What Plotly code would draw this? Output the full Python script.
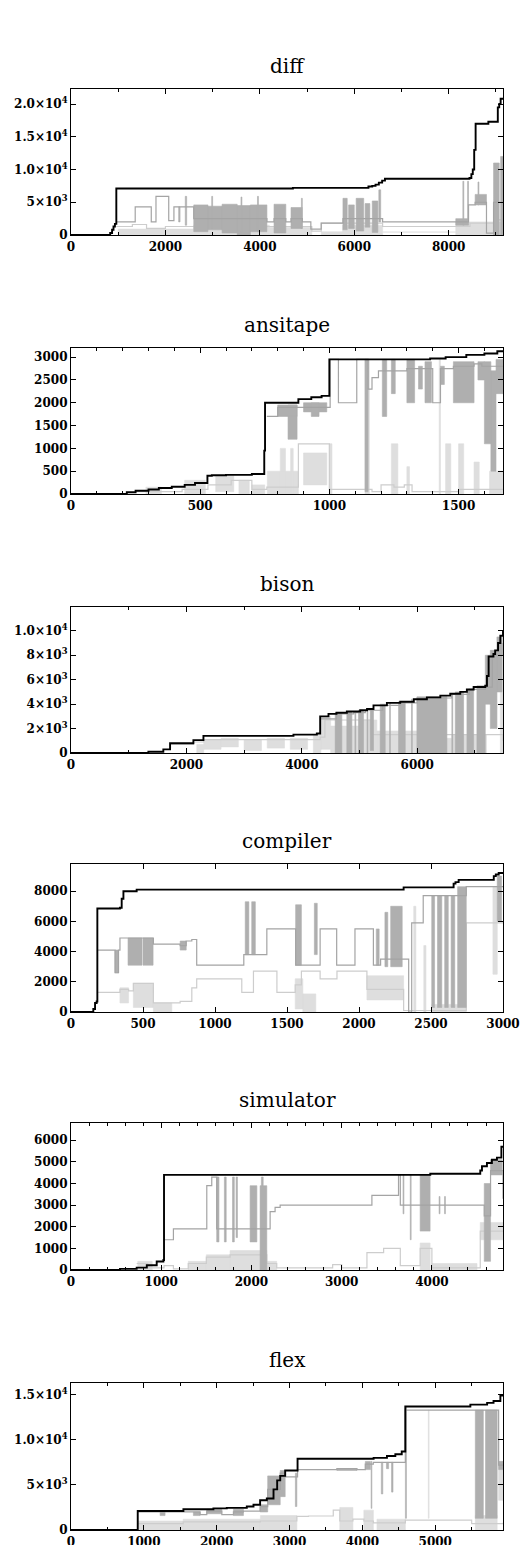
import plotly.graph_objects as go

# ------------------------------------------------------------------ data
TITLES = ["diff", "ansitape", "bison", "compiler", "simulator", "flex"]
X_MAX = [9150, 1672, 7486, 3000, 4788, 5930]
Y_MAX = [22300, 3200, 11950, 9800, 6800, 16300]

DIFF_XTICKS = [0, 2000, 4000, 6000, 8000]
ANSI_XTICKS = [0, 500, 1000, 1500]
BISON_XTICKS = [0, 2000, 4000, 6000]
COMP_XTICKS = [0, 500, 1000, 1500, 2000, 2500, 3000]
SIM_XTICKS = [0, 1000, 2000, 3000, 4000]
FLEX_XTICKS = [0, 1000, 2000, 3000, 4000, 5000]
X_MINOR = [1000, 100, 1000, None, 200, 500]

DIFF_YTICKS = [0, 5000, 10000, 15000, 20000]
DIFF_YTEXT = ["0", "5×10<sup>3</sup>", "1.0×10<sup>4</sup>", "1.5×10<sup>4</sup>", "2.0×10<sup>4</sup>"]
ANSI_YTICKS = [0, 500, 1000, 1500, 2000, 2500, 3000]
ANSI_YTEXT = ["0", "500", "1000", "1500", "2000", "2500", "3000"]
BISON_YTICKS = [0, 2000, 4000, 6000, 8000, 10000]
BISON_YTEXT = ["0", "2×10<sup>3</sup>", "4×10<sup>3</sup>", "6×10<sup>3</sup>", "8×10<sup>3</sup>", "1.0×10<sup>4</sup>"]
COMP_YTICKS = [0, 2000, 4000, 6000, 8000]
COMP_YTEXT = ["0", "2000", "4000", "6000", "8000"]
SIM_YTICKS = [0, 1000, 2000, 3000, 4000, 5000, 6000]
SIM_YTEXT = ["0", "1000", "2000", "3000", "4000", "5000", "6000"]
FLEX_YTICKS = [0, 5000, 10000, 15000]
FLEX_YTEXT = ["0", "5×10<sup>3</sup>", "1.0×10<sup>4</sup>", "1.5×10<sup>4</sup>"]

# ---- diff
DIFF_MAX_X = [0, 830, 870, 900, 930, 960, 4700, 6300, 6380, 6450, 6520, 6590, 6650, 8440, 8480, 8510, 8540, 8570, 8840, 9040, 9070, 9100, 9150]
DIFF_MAX_Y = [0, 300, 800, 1300, 1700, 7100, 7200, 7400, 7500, 7700, 8000, 8300, 8600, 8700, 9300, 10000, 13000, 17000, 17300, 19500, 20000, 20800, 20800]
DIFF_DARK_X = [960, 1360, 1700, 1800, 2070, 2180, 2600, 4150, 4300, 4550, 4660, 4900, 5080, 5300, 5760, 6600, 8150, 8420, 8560, 8800, 8950, 9150]
DIFF_DARK_Y = [2000, 4300, 2000, 5900, 2200, 4300, 2500, 2000, 2500, 2000, 2500, 2000, 900, 1800, 2500, 2000, 2000, 4600, 5000, 300, 5000, 5000]
DIFF_DARK_BANDS = [(2280, 2310, 2000, 4300), (2420, 2450, 1500, 5900), (2600, 2900, 500, 4600), (2900, 3200, 800, 4400),
                   (3200, 3520, 300, 4700), (3520, 3800, 0, 4500), (3800, 4150, 500, 4600), (2980, 3000, 1000, 5900),
                   (3600, 3620, 500, 5800), (3950, 3970, 500, 5900), (4300, 4550, 300, 4700), (4660, 4900, 1000, 4200),
                   (4880, 4900, 1000, 5600), (5760, 5850, 800, 5600), (5880, 6000, 1000, 4600), (6040, 6200, 600, 5600),
                   (6230, 6330, 1200, 4800), (6380, 6500, 400, 5200), (6520, 6560, 2000, 6900), (8150, 8420, 1500, 2500),
                   (8300, 8320, 1500, 8200), (8400, 8420, 2500, 8200), (8560, 8800, 4600, 6200), (8620, 8640, 4600, 8100),
                   (8950, 9070, 0, 11000), (9100, 9150, 0, 12000)]
DIFF_LIGHT_X = [960, 1300, 1600, 2000, 5100, 5300, 6600, 8150, 8450, 9000, 9150]
DIFF_LIGHT_Y = [1300, 1600, 1000, 1300, 600, 1800, 1300, 1300, 1800, 2300, 2300]
DIFF_LIGHT_BANDS = [(1000, 2600, 0, 900), (2600, 4200, 0, 1500), (4200, 5100, 0, 1200), (5300, 5750, 0, 500),
                    (5750, 6600, 0, 1500), (6600, 8150, 450, 560), (8150, 9150, 0, 2000)]

# ---- ansitape
ANSI_MAX_X = [0, 216, 250, 300, 340, 390, 440, 480, 528, 545, 600, 700, 748, 751, 880, 930, 970, 1000, 1390, 1450, 1530, 1600, 1650, 1672]
ANSI_MAX_Y = [0, 40, 70, 100, 130, 160, 200, 240, 400, 410, 420, 440, 950, 2000, 2080, 2120, 2150, 2950, 2970, 3000, 3050, 3080, 3130, 3150]
ANSI_DARK_X = [758, 800, 880, 1003, 1035, 1106, 1140, 1150, 1165, 1190, 1300, 1330, 1400, 1430, 1480, 1560, 1590, 1672]
ANSI_DARK_Y = [1700, 1900, 1900, 2950, 2000, 2950, 2950, 2300, 2550, 2700, 2750, 2750, 2000, 2750, 2800, 2850, 2800, 2800]
ANSI_DARK_BANDS = [(800, 875, 1700, 1950), (840, 875, 1200, 1950), (900, 990, 1800, 2000), (930, 960, 1700, 2000),
                   (1138, 1150, 50, 2950), (1205, 1222, 1700, 2950), (1240, 1255, 2200, 2950), (1300, 1330, 2000, 2950),
                   (1345, 1360, 2300, 2800), (1370, 1395, 2000, 2900), (1430, 1445, 2400, 2800), (1480, 1560, 2000, 2900),
                   (1575, 1600, 2500, 2900), (1600, 1625, 1100, 2900), (1625, 1645, 500, 2700), (1645, 1672, 2200, 2950)]
ANSI_LIGHT_X = [250, 430, 530, 620, 700, 758, 880, 1000, 1150, 1165, 1200, 1250, 1290, 1320, 1500, 1672]
ANSI_LIGHT_Y = [50, 100, 200, 300, 100, 150, 1100, 100, 100, 50, 200, 150, 200, 50, 100, 100]
ANSI_LIGHT_BANDS = [(290, 350, 0, 150), (440, 520, 0, 300), (560, 630, 50, 400), (650, 690, 0, 300), (700, 750, 0, 200),
                    (760, 880, 0, 500), (810, 830, 0, 1000), (850, 860, 0, 1000), (900, 990, 200, 900), (1000, 1010, 0, 1100),
                    (1138, 1155, 0, 2950), (1240, 1265, 0, 1100), (1300, 1310, 0, 600), (1425, 1430, 0, 2950),
                    (1450, 1470, 0, 1100), (1500, 1520, 0, 1100), (1560, 1580, 0, 700), (1620, 1672, 0, 500)]

# ---- bison
BISON_MAX_X = [0, 1341, 1600, 1717, 2121, 2295, 3855, 4260, 4318, 4462, 4600, 4780, 5011, 5130, 5242, 5474, 5705, 5940, 6167, 6400, 6572, 6745, 6860, 6977, 7179, 7208, 7237, 7320, 7350, 7400, 7440, 7486]
BISON_MAX_Y = [0, 100, 300, 800, 1050, 1400, 1500, 1600, 3000, 3200, 3300, 3400, 3500, 3600, 3900, 4100, 4200, 4400, 4550, 4700, 4850, 5000, 5200, 5400, 5500, 6300, 7900, 8100, 8400, 9000, 9600, 10000]
BISON_DARK_X = [4318, 4600, 4900, 5100, 5400, 5700, 6000, 6600, 6900, 7180, 7300, 7486]
BISON_DARK_Y = [2800, 3200, 3300, 3500, 3900, 4100, 4500, 4800, 5200, 5400, 8000, 9000]
BISON_DARK_BANDS = [(4578, 4693, 0, 3300), (4780, 4867, 0, 3400), (4920, 4935, 0, 3400), (4982, 5069, 0, 3500),
                    (5130, 5145, 0, 3500), (5185, 5242, 200, 3600), (5358, 5445, 0, 4000), (5520, 5535, 0, 4100),
                    (5676, 5792, 0, 4200), (5900, 5915, 0, 4400), (5994, 6514, 0, 4600), (6600, 6615, 0, 4800),
                    (6659, 6803, 0, 5000), (6861, 6977, 0, 5200), (7034, 7179, 0, 5500), (7179, 7266, 4000, 8000),
                    (7266, 7381, 2000, 8400), (7381, 7468, 5000, 9500)]
BISON_LIGHT_X = [1717, 2121, 2300, 4318, 4400, 5200, 7486]
BISON_LIGHT_Y = [700, 900, 1100, 1300, 2700, 1500, 1000]
BISON_LIGHT_BANDS = [(2180, 2300, 0, 700), (2300, 2600, 300, 1100), (2600, 2900, 500, 1200), (3000, 3300, 200, 1100),
                     (3400, 3700, 400, 1200), (3800, 4100, 300, 1200), (4200, 4330, 0, 1500), (4330, 4500, 300, 3000),
                     (4500, 5000, 0, 2200), (5000, 5300, 0, 2700), (5300, 6000, 0, 1800), (6000, 6600, 0, 1200),
                     (6600, 7200, 0, 1500), (7440, 7486, 0, 9500)]

# ---- compiler
COMP_MAX_X = [0, 155, 167, 178, 183, 340, 352, 364, 456, 2310, 2657, 2670, 2692, 2936, 2950, 2970, 3000]
COMP_MAX_Y = [0, 200, 600, 700, 6850, 6900, 7500, 8000, 8100, 8250, 8500, 8600, 8750, 9000, 9100, 9200, 9200]
COMP_DARK_X = [183, 306, 330, 340, 433, 572, 758, 800, 839, 873, 1200, 1270, 1360, 1560, 1600, 1730, 1845, 1972, 2100, 2150, 2330, 2345, 2366, 2446, 2505, 2745, 3000]
COMP_DARK_Y = [4100, 2600, 4100, 4900, 4900, 4500, 4400, 4700, 4800, 3100, 3800, 3800, 5500, 3100, 3100, 5500, 3100, 5500, 3100, 3500, 3500, 0, 5900, 7700, 7700, 8300, 8300]
COMP_DARK_BANDS = [(306, 330, 2600, 4100), (396, 493, 3100, 4900), (500, 570, 3100, 4900), (758, 800, 4100, 4700),
                   (1210, 1235, 3800, 7300), (1255, 1280, 3800, 7300), (1560, 1600, 3100, 7100), (1690, 1710, 3800, 7200),
                   (2120, 2140, 3100, 5500), (2180, 2200, 3000, 6600), (2220, 2300, 3000, 7000), (2505, 2525, 300, 7700),
                   (2545, 2575, 300, 7700), (2595, 2620, 300, 7700), (2640, 2665, 300, 7700), (2685, 2745, 300, 8300),
                   (2960, 2990, 6000, 9000)]
COMP_LIGHT_X = [183, 340, 400, 433, 572, 758, 839, 873, 1186, 1267, 1430, 1557, 1600, 1730, 1847, 2055, 2310, 2745, 3000]
COMP_LIGHT_Y = [1300, 1500, 1400, 1900, 600, 700, 1600, 2200, 1300, 2700, 1300, 1800, 2700, 2200, 2700, 1500, 100, 5900, 5900]
COMP_LIGHT_BANDS = [(340, 400, 600, 1600), (433, 572, 300, 1900), (572, 700, 0, 600), (1557, 1610, 200, 2200),
                    (1610, 1700, 0, 1200), (2055, 2310, 800, 2400), (2380, 2395, 0, 7000), (2450, 2465, 0, 4400),
                    (2505, 2745, 0, 500), (2930, 2960, 2500, 8300)]

# ---- simulator
SIM_MAX_X = [0, 543, 728, 840, 950, 1024, 1031, 3982, 4536, 4555, 4610, 4665, 4721, 4770, 4788]
SIM_MAX_Y = [0, 50, 110, 220, 390, 465, 4400, 4450, 4600, 4800, 4950, 5100, 5200, 5700, 5700]
SIM_DARK_X = [1031, 1135, 1505, 1560, 1615, 2207, 2262, 2318, 3335, 3630, 3650, 4000, 4580, 4650, 4788]
SIM_DARK_Y = [1400, 1900, 3900, 4300, 1900, 2700, 2900, 3000, 3450, 4400, 3000, 3000, 2500, 4600, 3300]
SIM_DARK_BANDS = [(1615, 1640, 1300, 4300), (1700, 1720, 1300, 4300), (1790, 1810, 1300, 4300), (1830, 1845, 1500, 4300),
                  (1985, 2060, 1300, 3900), (2096, 2170, 0, 3900), (2110, 2130, 1900, 4300), (3680, 3690, 2600, 4400),
                  (3760, 3770, 1400, 4400), (3870, 3980, 1800, 4400), (4080, 4090, 2600, 3400), (4140, 4150, 2600, 3400),
                  (4580, 4650, 400, 4000), (4650, 4780, 4400, 5100)]
SIM_LIGHT_X = [728, 850, 1031, 1135, 1300, 1500, 1763, 2170, 2280, 2900, 3000, 3280, 3465, 3650, 3870, 4000, 4536, 4788]
SIM_LIGHT_Y = [300, 100, 200, 50, 300, 600, 700, 300, 100, 250, 100, 800, 1000, 200, 1000, 100, 1800, 1800]
SIM_LIGHT_BANDS = [(740, 900, 0, 400), (1300, 1500, 0, 400), (1500, 1763, 0, 700), (1763, 2170, 0, 900),
                   (2170, 2280, 0, 400), (3870, 3980, 0, 1250), (4000, 4500, 0, 300), (4536, 4788, 1400, 2200)]

# ---- flex
FLEX_MAX_X = [0, 916, 1543, 1955, 2138, 2413, 2505, 2596, 2688, 2780, 2830, 2872, 2940, 3110, 4154, 4337, 4452, 4540, 4589, 5482, 5712, 5800, 5894, 5930]
FLEX_MAX_Y = [0, 2100, 2300, 2400, 2450, 2600, 2800, 3300, 3500, 4500, 5500, 6000, 6600, 7900, 8000, 8200, 8400, 8700, 13700, 13900, 14100, 14300, 14900, 14900]
FLEX_DARK_X = [916, 1772, 1864, 2070, 2230, 2367, 2596, 2700, 2872, 2940, 3110, 3650, 3925, 4040, 4150, 4450, 4590, 5500, 5870, 5930]
FLEX_DARK_Y = [2000, 1700, 2100, 1700, 2000, 2100, 2600, 4500, 6300, 5900, 6700, 6800, 6700, 7300, 7500, 7500, 13300, 13300, 7200, 7200]
FLEX_DARK_BANDS = [(1223, 1291, 1600, 2000), (1680, 1772, 1600, 2000), (1864, 2070, 1800, 2300), (2230, 2367, 1600, 2300),
                   (2596, 2700, 2000, 2800), (2700, 2872, 2800, 6000), (2872, 2940, 3700, 6600), (3080, 3100, 2600, 6300),
                   (3650, 3925, 6600, 6800), (4040, 4110, 6700, 7600), (4120, 4130, 2400, 7600), (4260, 4280, 4000, 7500),
                   (4330, 4360, 6800, 7500), (4400, 4420, 4200, 7500), (4590, 4605, 1300, 13600), (5550, 5660, 1300, 13300),
                   (5690, 5850, 1300, 13300), (5870, 5930, 6700, 7600)]
FLEX_LIGHT_X = [916, 1540, 2600, 3100, 3260, 3600, 3690, 3870, 4020, 4150, 4590, 5500, 5930]
FLEX_LIGHT_Y = [700, 900, 1000, 1500, 1550, 2200, 1000, 1200, 1000, 800, 1100, 700, 800]
FLEX_LIGHT_BANDS = [(916, 1540, 0, 1000), (1540, 2600, 0, 1200), (2600, 3100, 0, 1600), (3690, 3870, 0, 2500),
                    (4020, 4150, 0, 2200), (4200, 4590, 0, 1200), (4905, 4915, 1300, 13300), (5550, 5850, 0, 1600),
                    (5870, 5930, 3300, 7600)]

PANELS = [
    (DIFF_MAX_X, DIFF_MAX_Y, DIFF_DARK_X, DIFF_DARK_Y, DIFF_DARK_BANDS, DIFF_LIGHT_X, DIFF_LIGHT_Y, DIFF_LIGHT_BANDS, DIFF_XTICKS, DIFF_YTICKS, DIFF_YTEXT),
    (ANSI_MAX_X, ANSI_MAX_Y, ANSI_DARK_X, ANSI_DARK_Y, ANSI_DARK_BANDS, ANSI_LIGHT_X, ANSI_LIGHT_Y, ANSI_LIGHT_BANDS, ANSI_XTICKS, ANSI_YTICKS, ANSI_YTEXT),
    (BISON_MAX_X, BISON_MAX_Y, BISON_DARK_X, BISON_DARK_Y, BISON_DARK_BANDS, BISON_LIGHT_X, BISON_LIGHT_Y, BISON_LIGHT_BANDS, BISON_XTICKS, BISON_YTICKS, BISON_YTEXT),
    (COMP_MAX_X, COMP_MAX_Y, COMP_DARK_X, COMP_DARK_Y, COMP_DARK_BANDS, COMP_LIGHT_X, COMP_LIGHT_Y, COMP_LIGHT_BANDS, COMP_XTICKS, COMP_YTICKS, COMP_YTEXT),
    (SIM_MAX_X, SIM_MAX_Y, SIM_DARK_X, SIM_DARK_Y, SIM_DARK_BANDS, SIM_LIGHT_X, SIM_LIGHT_Y, SIM_LIGHT_BANDS, SIM_XTICKS, SIM_YTICKS, SIM_YTEXT),
    (FLEX_MAX_X, FLEX_MAX_Y, FLEX_DARK_X, FLEX_DARK_Y, FLEX_DARK_BANDS, FLEX_LIGHT_X, FLEX_LIGHT_Y, FLEX_LIGHT_BANDS, FLEX_XTICKS, FLEX_YTICKS, FLEX_YTEXT),
]

# ------------------------------------------------------------------ layout / style
# the page body has an 8px margin, so the figure is laid out 8px up/left
OFF = 8
W, H = 530 - OFF, 1545 - OFF
LEFT, RIGHT = 71 - OFF, 503 - OFF
FRAMES = [(89, 235), (348, 494), (607, 753), (864, 1012), (1123, 1270), (1383, 1530)]
DARK_LINE = "#a4a4a4"
DARK_FILL = "#afafaf"
LIGHT_LINE = "#cdcdcd"
LIGHT_FILL = "#dedede"
FONT = "DejaVu Serif"


def band_xy(bands):
    xs, ys = [], []
    for x0, x1, lo, hi in bands:
        xs += [x0, x1, x1, x0, x0, None]
        ys += [lo, lo, hi, hi, lo, None]
    return xs, ys


fig = go.Figure()
annotations = []
layout = {}
for i, (mx, my, dx, dy, db, lx, ly, lb, xt, yt, ytext) in enumerate(PANELS):
    n = "" if i == 0 else str(i + 1)
    xa, ya = "x" + n, "y" + n
    bx, by = band_xy(lb)
    fig.add_trace(go.Scatter(x=bx, y=by, xaxis=xa, yaxis=ya, mode="lines", fill="toself",
                             fillcolor=LIGHT_FILL, line=dict(color=LIGHT_FILL, width=0.6), hoverinfo="skip"))
    fig.add_trace(go.Scatter(x=lx, y=ly, xaxis=xa, yaxis=ya, mode="lines", line_shape="hv",
                             line=dict(color=LIGHT_LINE, width=1.2), hoverinfo="skip"))
    bx, by = band_xy(db)
    fig.add_trace(go.Scatter(x=bx, y=by, xaxis=xa, yaxis=ya, mode="lines", fill="toself",
                             fillcolor=DARK_FILL, line=dict(color=DARK_FILL, width=0.6), hoverinfo="skip"))
    fig.add_trace(go.Scatter(x=dx, y=dy, xaxis=xa, yaxis=ya, mode="lines", line_shape="hv",
                             line=dict(color=DARK_LINE, width=1.2), hoverinfo="skip"))
    fig.add_trace(go.Scatter(x=mx, y=my, xaxis=xa, yaxis=ya, mode="lines", line_shape="hv",
                             line=dict(color="black", width=1.9), hoverinfo="skip"))

    top, bottom = FRAMES[i][0] - OFF, FRAMES[i][1] - OFF
    tick_font = dict(family=FONT, size=12, color="black", weight="bold")
    xaxis = dict(domain=[LEFT / W, RIGHT / W], anchor=ya, range=[0, X_MAX[i]],
                 showline=True, linecolor="black", linewidth=1.2, mirror="ticks",
                 ticks="inside", ticklen=5, tickwidth=1, tickcolor="black",
                 tickvals=xt, ticktext=[str(v) for v in xt], showgrid=False, zeroline=False,
                 tickfont=tick_font, automargin=False)
    if X_MINOR[i]:
        xaxis["minor"] = dict(ticks="inside", ticklen=3, dtick=X_MINOR[i], tickcolor="black", showgrid=False)
    yaxis = dict(domain=[1 - bottom / H, 1 - top / H], anchor=xa, range=[0, Y_MAX[i]],
                 showline=True, linecolor="black", linewidth=1.2, mirror="ticks",
                 ticks="inside", ticklen=5, tickwidth=1, tickcolor="black",
                 tickvals=yt, ticktext=ytext, showgrid=False, zeroline=False,
                 tickfont=tick_font, automargin=False)
    layout["xaxis" + n] = xaxis
    layout["yaxis" + n] = yaxis
    annotations.append(dict(text=TITLES[i], xref="paper", yref="paper",
                            x=(LEFT + RIGHT) / 2 / W, y=1 - (top - 23) / H,
                            xanchor="center", yanchor="middle", showarrow=False,
                            font=dict(family=FONT, size=20, color="black")))

fig.update_layout(width=W, height=H, margin=dict(l=0, r=0, t=0, b=0),
                  paper_bgcolor="white", plot_bgcolor="white", showlegend=False,
                  annotations=annotations, **layout)

fig.write_html("out.html")
